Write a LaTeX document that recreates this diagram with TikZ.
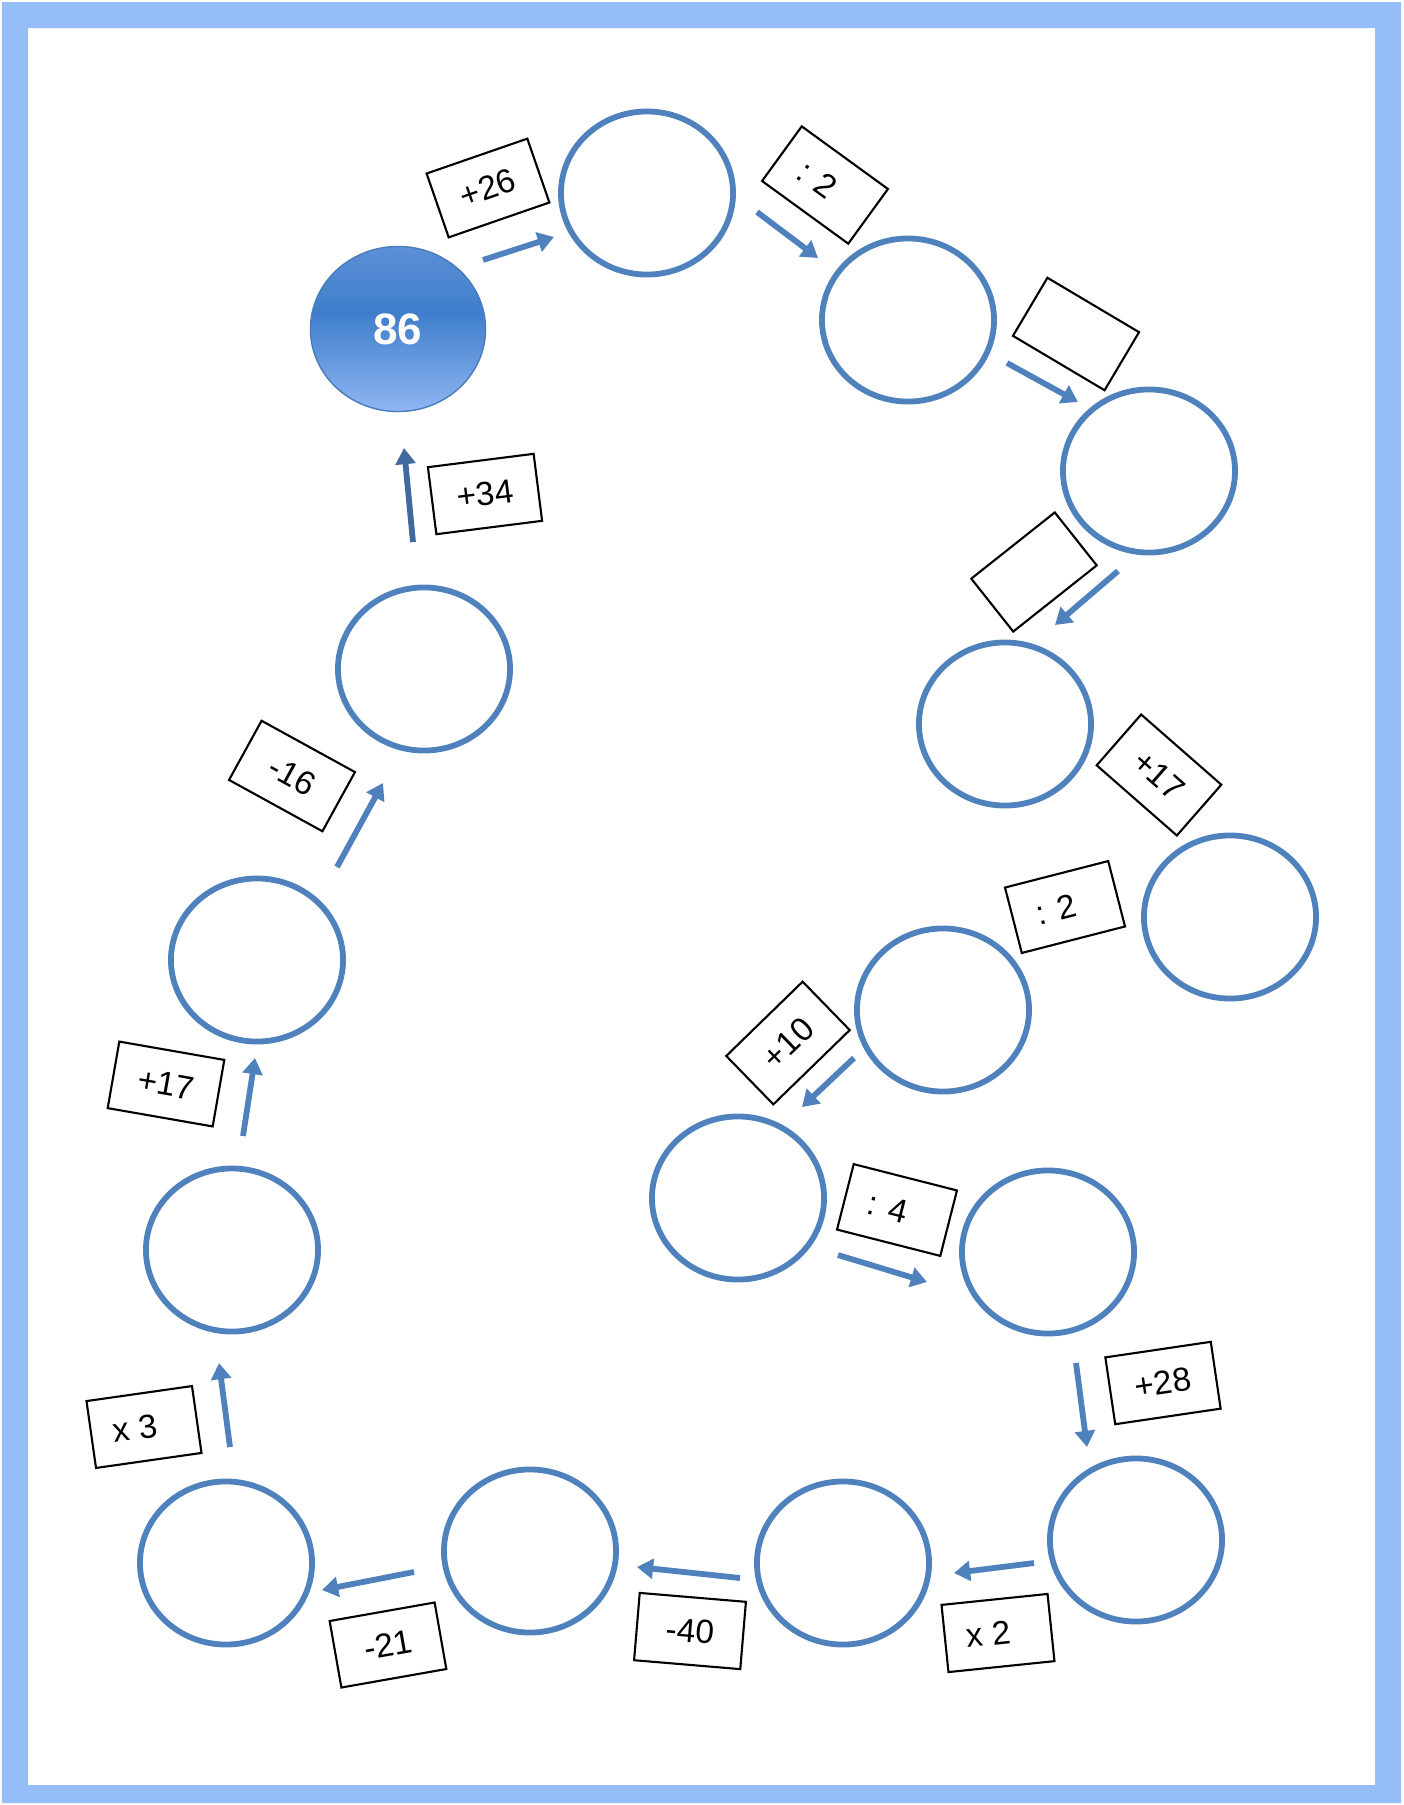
\documentclass[tikz,border=0pt]{standalone}
\usepackage{fontspec}
\setmainfont{Liberation Sans}
\usepackage{tikz}
\usetikzlibrary{shapes.geometric,arrows.meta}
\definecolor{pzFrame}{HTML}{95BEF9}
\definecolor{pzBlue}{HTML}{4F81BD}
\definecolor{pzDark}{HTML}{41699E}
\definecolor{pzBallTop}{HTML}{5C8FD6}
\definecolor{pzBallMid}{HTML}{3F7ECB}
\definecolor{pzBallLow}{HTML}{8FB6F3}
\definecolor{pzBallRim}{HTML}{4A7CBA}
\pgfdeclareverticalshading{pzball}{100bp}{color(0bp)=(pzBallLow); color(25bp)=(pzBallLow);
  color(55bp)=(pzBallMid); color(75bp)=(pzBallTop); color(100bp)=(pzBallTop)}

\begin{document}
\begin{tikzpicture}[x=0.01cm,y=-0.01cm,
  blank/.style={draw=pzBlue,line width=0.058cm,ellipse,inner sep=0pt,
                minimum width=1.72cm,minimum height=1.63cm},
  start/.style={draw=pzBallRim,line width=0.4pt,ellipse,shading=pzball,inner sep=0pt,
                minimum width=1.75cm,minimum height=1.65cm,text=white,
                font=\fontsize{12.5}{14}\selectfont\bfseries},
  op/.style={draw=black,line width=0.6pt,fill=white,inner sep=0pt,
             minimum width=1.065cm,minimum height=0.675cm,
             font=\fontsize{9.5}{11}\selectfont},
  fl/.style={-{Triangle[length=4.6pt,width=5.6pt]},draw=pzBlue,line width=0.058cm}]

\useasboundingbox (0,0) rectangle (1404,1805);
\fill[pzFrame,even odd rule] (2,2) rectangle (1401,1803) (28,28) rectangle (1375,1785);

% the number chain
\node[start] (s)   at ( 398, 329) {86};
\node[blank] (n1)  at ( 647, 193) {};
\node[blank] (n2)  at ( 908, 320) {};
\node[blank] (n3)  at (1149, 471) {};
\node[blank] (n4)  at (1005, 724) {};
\node[blank] (n5)  at (1230, 917) {};
\node[blank] (n6)  at ( 943,1010) {};
\node[blank] (n7)  at ( 738,1198) {};
\node[blank] (n8)  at (1048,1252) {};
\node[blank] (n9)  at (1136,1540) {};
\node[blank] (n10) at ( 843,1563) {};
\node[blank] (n11) at ( 530,1551) {};
\node[blank] (n12) at ( 226,1563) {};
\node[blank] (n13) at ( 232,1250) {};
\node[blank] (n14) at ( 257, 960) {};
\node[blank] (n15) at ( 424, 669) {};

% operations
\node[op,rotate=19.1]  (o1)  at ( 488, 188) {+26};
\node[op,rotate=-36]   (o2)  at ( 825, 185) {: 2\hphantom{0}};
\node[op,rotate=-30.7] (o3)  at (1076, 334) {};
\node[op,rotate=38.4]  (o4)  at (1034, 572) {};
\node[op,rotate=-41.2] (o5)  at (1159, 775) {+17};
\node[op,rotate=14.4]  (o6)  at (1065, 907) {: 2\hphantom{0}};
\node[op,rotate=44.2]  (o7)  at ( 788,1043) {+10};
\node[op,rotate=-14.3] (o8)  at ( 897,1210) {: 4\hphantom{0}};
\node[op,rotate=8.4]   (o9)  at (1163,1383) {+28};
\node[op,rotate=5.9]   (o10) at ( 998,1633) {x 2\hphantom{0}};
\node[op,rotate=-4.8]  (o11) at ( 690,1631) {-40};
\node[op,rotate=10]    (o12) at ( 388,1645) {-21};
\node[op,rotate=8.1]   (o13) at ( 144,1427) {x 3\hphantom{0}};
\node[op,rotate=-9.9]  (o14) at ( 166,1084) {+17};
\node[op,rotate=-28.8] (o15) at ( 292, 776) {-16};
\node[op,rotate=7.2]   (o16) at ( 485, 494) {+34};

% arrows
\foreach \i/\tx/\ty/\hx/\hy in {1/483/260/554/237, 2/757/212/818/258,
    3/1007/363/1078/402, 4/1118/571/1055/625, 5/854/1058/802/1107,
    6/838/1255/927/1282, 7/1076/1363/1087/1447, 8/1034/1563/954/1573,
    9/740/1578/637/1567, 10/414/1572/322/1590, 11/230/1447/219/1363,
    12/243/1136/255/1058, 13/337/867/383/783}{
  \coordinate (t\i) at (\tx,\ty);
  \coordinate (h\i) at (\hx,\hy);
  \draw[fl] (t\i) -- (h\i);
}
\coordinate (t14) at (413,542);
\coordinate (h14) at (404,448);
\draw[fl,draw=pzDark] (t14) -- (h14);
\end{tikzpicture}
\end{document}
